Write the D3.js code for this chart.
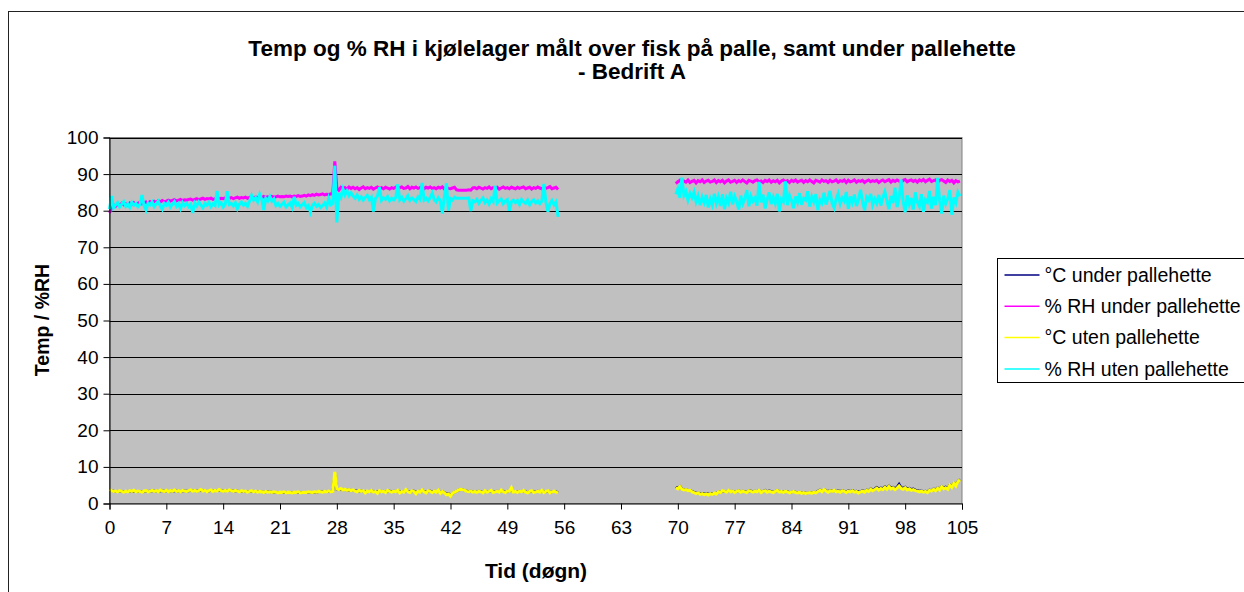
<!DOCTYPE html>
<html>
<head>
<meta charset="utf-8">
<script src="https://cdn.jsdelivr.net/npm/d3@7"></script>
<style>
  body { margin: 0; background: #fff; }
  svg { display: block; font-family: "Liberation Sans", Arial, sans-serif; }
</style>
</head>
<body>
<div id="chart"></div>
<script>
// tekst
const titleLines = ["Temp og % RH i kjølelager målt over fisk på palle, samt under pallehette", "- Bedrift A"];
const xTitle = "Tid (døgn)";
const yTitle = "Temp / %RH";
const xTicks = [0, 7, 14, 21, 28, 35, 42, 49, 56, 63, 70, 77, 84, 91, 98, 105];
const yTicks = [0, 10, 20, 30, 40, 50, 60, 70, 80, 90, 100];
const seriesNames = ["°C under pallehette", "% RH under pallehette", "°C uten pallehette", "% RH uten pallehette"];
const seriesColors = ["#000080", "#ff00ff", "#ffff00", "#00ffff"];
const seriesWidths = [2.5, 3, 3, 3];

// målinger, hver 6. time (0.25 døgn). periode A starter døgn 0, periode B døgn 69.75
const stepDays = 0.25;
const startA = 0;
const startB = 69.75;

const tempUnderA = [
  3.7, 3.5, 3.4, 3.3, 3.3, 3.4, 3.3, 3.2, 3.3, 3.3, 3.4, 3.3, 3.4, 3.3, 3.3, 3.3, 3.2, 3.3, 3.4, 3.3,
  3.4, 3.5, 3.4, 3.4, 3.3, 3.5, 3.4, 3.4, 3.5, 3.3, 3.4, 3.4, 3.5, 3.4, 3.4, 3.3, 3.5, 3.4, 3.4, 3.4,
  3.6, 3.5, 3.5, 3.4, 3.5, 3.6, 3.5, 3.5, 3.3, 3.4, 3.6, 3.4, 3.5, 3.5, 3.6, 3.5, 3.4, 3.5, 3.5, 3.6,
  3.5, 3.4, 3.5, 3.4, 3.3, 3.4, 3.3, 3.3, 3.2, 3.3, 3.4, 3.3, 3.3, 3.2, 3.3, 3.2, 3.1, 3.2, 3.2, 3.2,
  3.1, 3.1, 3.1, 3.0, 3.0, 3.0, 3.1, 3.0, 3.0, 3.0, 3.0, 3.0, 3.0, 3.1, 3.0, 3.0, 3.0, 3.0, 3.1, 3.1,
  3.1, 3.1, 3.1, 3.2, 3.2, 3.2, 3.2, 3.2, 3.3, 3.2, 3.3, 7.9, 3.9, 3.8, 3.9, 3.7, 3.8, 3.6, 3.7, 3.6,
  3.6, 3.5, 3.4, 3.5, 3.4, 3.4, 3.2, 3.3, 3.3, 3.5, 3.3, 3.3, 3.1, 3.4, 3.3, 3.4, 3.2, 3.5, 3.4, 3.3,
  3.4, 3.3, 3.5, 3.2, 3.3, 3.2, 3.6, 3.3, 3.2, 3.4, 3.4, 3.0, 3.4, 3.2, 3.6, 3.3, 3.1, 3.4, 3.4, 3.2,
  3.4, 3.2, 3.5, 3.0, 3.3, 3.0, 2.6, 2.7, 2.2, 2.8, 3.1, 3.4, 3.7, 3.9, 3.8, 3.6, 3.4, 3.3, 3.4, 3.2,
  3.3, 3.1, 3.4, 3.3, 3.0, 3.4, 3.2, 3.3, 3.5, 3.1, 3.3, 3.4, 3.2, 3.6, 3.3, 3.1, 3.4, 3.3, 4.0, 3.2,
  3.3, 3.1, 3.4, 3.3, 3.5, 3.2, 3.0, 3.3, 3.4, 3.1, 3.3, 3.4, 3.2, 3.5, 3.1, 3.3, 3.4, 3.0, 3.2, 3.3, 3.2, 3.0
];
const tempUnderB = [
  4.5, 4.2, 4.7, 4.0, 3.8, 3.8, 3.6, 3.6, 3.3, 3.1, 2.9, 2.9, 2.7, 2.8, 2.6, 2.7, 2.6, 2.7, 2.7, 2.8,
  2.8, 3.2, 3.1, 3.4, 3.3, 3.2, 3.5, 3.3, 3.4, 3.1, 3.3, 3.5, 3.2, 3.4, 3.3, 3.1, 3.5, 3.4, 3.2, 3.4,
  3.3, 3.6, 3.1, 3.3, 3.6, 3.2, 3.5, 3.3, 3.1, 3.3, 3.6, 3.2, 3.3, 3.1, 3.4, 3.3, 3.0, 3.1, 3.3, 3.1,
  3.0, 3.1, 2.9, 3.0, 2.8, 2.9, 3.0, 2.9, 3.1, 3.0, 3.4, 3.7, 3.3, 3.8, 3.5, 3.3, 3.6, 3.4, 3.6, 3.3,
  3.5, 3.3, 3.6, 3.4, 3.2, 3.5, 3.3, 3.6, 3.3, 3.4, 3.2, 3.3, 3.5, 3.3, 3.7, 3.5, 4.0, 3.7, 4.0, 4.4,
  4.0, 4.3, 4.1, 4.6, 4.2, 4.8, 4.3, 4.5, 4.1, 4.5, 5.3, 4.4, 4.2, 4.5, 4.0, 4.2, 3.9, 4.0, 3.7, 3.6,
  3.4, 3.5, 3.3, 3.4, 3.2, 3.7, 3.5, 4.0, 3.7, 4.3, 3.9, 4.7, 4.2, 4.5, 4.1, 5.1, 4.6, 5.6, 5.0, 6.1,
  6.6
];

const rhUnderA = [
  79.4, 80.6, 81.6, 81.2, 81.8, 81.4, 82.0, 81.6, 81.9, 81.5, 82.1, 81.7, 82.2, 81.8, 82.0, 82.3, 81.9, 82.2, 82.4, 82.0,
  82.5, 82.2, 82.6, 82.3, 82.7, 82.4, 82.8, 82.5, 82.6, 82.9, 82.6, 82.8, 83.0, 82.7, 82.9, 83.1, 82.8, 83.0, 82.9, 83.1,
  83.2, 82.9, 83.1, 83.3, 83.0, 83.2, 83.4, 83.1, 83.3, 83.2, 83.4, 83.1, 83.3, 83.5, 83.2, 83.4, 83.3, 83.5, 83.2, 83.4,
  83.6, 83.3, 83.5, 83.7, 83.4, 83.6, 83.5, 83.7, 83.4, 83.6, 83.8, 83.5, 83.7, 83.6, 83.8, 83.6, 83.9, 83.7, 83.8, 83.6,
  83.9, 83.7, 83.8, 84.0, 83.8, 83.9, 83.8, 84.0, 83.9, 84.0, 83.8, 84.0, 83.9, 84.1, 83.9, 84.0, 84.2, 84.0, 84.3, 84.1,
  84.4, 84.2, 84.5, 84.3, 84.4, 84.6, 84.3, 84.5, 84.4, 84.6, 84.5, 93.5, 86.2, 85.6, 86.4, 86.0, 86.3, 85.9, 86.5, 86.1,
  86.4, 86.0, 86.3, 85.8, 86.2, 86.5, 86.0, 86.3, 86.1, 86.4, 85.9, 86.2, 86.5, 86.1, 86.3, 86.0, 86.4, 86.2, 85.9, 86.3,
  86.1, 86.4, 86.0, 86.3, 86.5, 86.1, 86.2, 86.6, 86.0, 86.4, 86.2, 86.5, 86.1, 86.3, 86.6, 86.0, 86.4, 86.2, 86.5, 86.1,
  86.3, 86.0, 86.4, 86.2, 86.5, 85.9, 86.3, 86.1, 86.0, 86.2, 86.4, 85.7, 85.6, 85.6, 85.6, 85.6, 85.6, 85.7, 85.6, 86.2,
  86.3, 86.0, 86.4, 86.2, 85.9, 86.3, 86.1, 86.5, 86.0, 86.3, 86.2, 86.4, 85.9, 86.2, 86.5, 86.1, 86.3, 86.0, 86.4, 86.2,
  86.0, 86.4, 86.1, 86.3, 86.5, 86.0, 86.2, 86.4, 85.9, 86.3, 86.1, 86.5, 86.2, 86.0, 86.4, 86.1, 86.3, 86.6, 86.0, 86.2, 86.4, 85.8
];
const rhUnderB = [
  87.4, 87.9, 88.3, 87.6, 88.1, 87.8, 88.4, 87.7, 88.0, 88.3, 87.6, 88.2, 87.9, 88.4, 87.7, 88.1, 88.3, 87.8, 88.0, 88.4,
  87.7, 88.2, 87.9, 88.3, 87.6, 88.1, 88.4, 87.8, 88.0, 88.3, 87.7, 88.2, 87.9, 88.4, 88.0, 87.6, 88.3, 88.1, 87.8, 88.2,
  88.4, 87.9, 88.1, 87.7, 88.3, 88.0, 88.4, 87.8, 88.2, 87.9, 88.3, 87.6, 88.1, 88.4, 87.9, 88.2, 87.7, 88.3, 88.0, 88.4,
  87.8, 88.1, 88.3, 87.7, 88.2, 87.9, 88.4, 88.0, 87.6, 88.3, 88.1, 87.8, 88.4, 88.0, 88.2, 87.7, 88.3, 87.9, 88.1, 88.4,
  87.8, 88.2, 88.0, 88.4, 87.7, 88.3, 87.9, 88.1, 88.4, 87.8, 88.2, 88.0, 88.3, 87.7, 88.1, 88.4, 87.9, 88.2, 88.0, 88.3,
  87.7, 88.1, 88.4, 87.9, 88.2, 88.5, 87.8, 88.3, 88.0, 88.4, 88.1, 87.7, 88.3, 88.5, 87.9, 88.2, 88.4, 88.0, 88.3, 87.8,
  88.4, 88.1, 88.5, 87.9, 88.3, 88.6, 88.0, 88.2, 88.4, 87.8, 88.3, 88.5, 88.1, 87.7, 88.4, 88.0, 88.3, 87.6, 88.2, 87.9,
  88.1
];

const tempUtenA = [
  3.8, 3.5, 3.3, 3.4, 3.2, 3.5, 3.3, 3.1, 3.4, 3.2, 3.5, 3.3, 3.6, 3.2, 3.4, 3.3, 3.1, 3.4, 3.5, 3.2,
  3.4, 3.6, 3.3, 3.5, 3.2, 3.7, 3.4, 3.3, 3.6, 3.2, 3.5, 3.4, 3.7, 3.3, 3.5, 3.2, 3.6, 3.4, 3.3, 3.5,
  3.7, 3.4, 3.6, 3.3, 3.5, 3.8, 3.4, 3.6, 3.2, 3.5, 3.7, 3.3, 3.6, 3.4, 3.8, 3.5, 3.3, 3.6, 3.4, 3.7,
  3.5, 3.3, 3.6, 3.4, 3.2, 3.5, 3.3, 3.4, 3.1, 3.3, 3.5, 3.2, 3.4, 3.1, 3.3, 3.2, 3.0, 3.3, 3.1, 3.2,
  3.0, 3.2, 3.1, 2.9, 3.1, 3.0, 3.2, 2.9, 3.1, 3.0, 2.9, 3.1, 3.0, 3.2, 2.9, 3.0, 3.1, 3.0, 3.2, 3.1,
  3.0, 3.2, 3.1, 3.3, 3.2, 3.1, 3.3, 3.2, 3.4, 3.2, 3.3, 8.6, 4.0, 3.8, 4.1, 3.7, 3.9, 3.6, 3.8, 3.5,
  3.7, 3.4, 3.2, 3.6, 3.3, 3.5, 2.9, 3.4, 3.2, 3.6, 3.1, 3.3, 2.8, 3.5, 3.2, 3.4, 3.0, 3.6, 3.3, 3.1,
  3.4, 3.2, 3.6, 2.9, 3.3, 3.1, 3.8, 3.2, 3.0, 3.5, 3.3, 2.7, 3.4, 3.1, 3.7, 3.2, 2.9, 3.5, 3.3, 3.0,
  3.4, 3.1, 3.6, 2.8, 3.3, 2.9, 2.4, 2.6, 2.0, 2.8, 3.1, 3.4, 3.7, 3.9, 3.8, 3.6, 3.3, 3.2, 3.4, 3.1,
  3.3, 3.0, 3.4, 3.2, 2.9, 3.5, 3.1, 3.3, 3.6, 3.0, 3.2, 3.4, 3.1, 3.7, 3.2, 3.0, 3.4, 3.3, 4.3, 3.1,
  3.3, 3.0, 3.4, 3.2, 3.6, 3.1, 2.9, 3.3, 3.5, 3.0, 3.2, 3.4, 3.1, 3.6, 3.0, 3.3, 3.5, 2.9, 3.2, 3.4, 3.1, 2.9
];
const tempUtenB = [
  4.3, 4.0, 4.6, 3.9, 3.7, 3.8, 3.5, 3.6, 3.2, 3.0, 2.7, 2.9, 2.5, 2.7, 2.4, 2.6, 2.3, 2.7, 2.5, 2.8,
  2.6, 3.2, 3.0, 3.5, 3.3, 3.1, 3.6, 3.2, 3.4, 3.0, 3.3, 3.5, 3.1, 3.4, 3.2, 3.0, 3.5, 3.3, 3.1, 3.4,
  3.2, 3.6, 3.0, 3.3, 3.5, 3.1, 3.4, 3.2, 3.0, 3.3, 3.6, 3.1, 3.3, 3.0, 3.4, 3.2, 2.9, 3.1, 3.3, 3.0,
  2.9, 3.1, 2.8, 3.0, 2.7, 2.9, 3.0, 2.8, 3.1, 2.9, 3.3, 3.6, 3.2, 3.8, 3.4, 3.1, 3.5, 3.3, 3.6, 3.2,
  3.4, 3.1, 3.5, 3.3, 3.0, 3.4, 3.2, 3.5, 3.1, 3.3, 2.9, 3.2, 3.4, 3.1, 3.6, 3.3, 3.9, 3.5, 3.8, 4.2,
  3.7, 4.1, 3.8, 4.4, 3.9, 4.6, 4.0, 4.3, 3.8, 4.2, 4.8, 4.1, 3.9, 4.3, 3.7, 4.0, 3.6, 3.8, 3.5, 3.4,
  3.2, 3.4, 3.1, 3.3, 3.0, 3.6, 3.4, 3.9, 3.5, 4.2, 3.7, 4.6, 4.0, 4.3, 3.9, 5.0, 4.4, 5.5, 4.8, 6.0,
  6.5
];

const rhUtenA = [
  80.4, 84.0, 80.8, 81.6, 82.2, 81.0, 81.8, 82.5, 81.2, 81.9, 80.9, 82.3, 81.5, 82.0, 81.1, 81.7, 84.3, 81.4, 80.2, 82.1,
  81.6, 82.4, 81.1, 81.9, 82.6, 81.3, 80.4, 82.0, 81.5, 82.3, 81.0, 81.8, 82.5, 81.2, 81.9, 80.6, 82.2, 81.4, 82.0, 81.1,
  81.8, 79.4, 82.1, 81.3, 82.4, 81.6, 80.8, 82.0, 81.5, 82.3, 81.1, 81.9, 81.4, 85.4, 81.6, 82.2, 81.0, 81.8, 85.3, 81.7,
  82.0, 81.3, 82.2, 80.6, 81.8, 82.4, 81.5, 82.0, 81.2, 82.6, 84.2, 82.9, 83.6, 82.4, 84.5, 83.1, 80.2, 83.4, 82.7, 83.9,
  82.6, 83.2, 81.4, 82.0, 81.2, 81.8, 82.3, 81.0, 81.6, 82.1, 80.9, 83.8, 81.5, 82.0, 81.1, 81.7, 82.2, 80.8, 81.4, 79.6,
  81.5, 82.0, 81.2, 81.7, 80.9, 81.4, 82.1, 81.0, 83.4, 81.6, 82.0, 92.3, 76.8, 84.8, 83.6, 85.9, 84.3, 85.4, 84.1, 84.9,
  84.0, 83.4, 84.3, 83.1, 83.8, 82.9, 83.6, 84.2, 83.0, 83.7, 79.8, 83.3, 84.0, 86.4, 82.8, 83.5, 83.1, 83.9, 82.7, 83.4,
  82.9, 83.6, 87.2, 83.0, 83.7, 82.6, 83.3, 84.1, 82.8, 83.5, 83.0, 82.5, 83.8, 83.1, 87.6, 82.9, 83.4, 82.7, 83.6, 84.8,
  83.0, 82.4, 83.5, 82.8, 79.2, 84.1, 87.5, 80.0, 83.3, 82.9, 83.7, 83.4, 83.4, 83.4, 83.4, 83.4, 83.4, 83.5, 79.9, 82.7,
  82.4, 83.1, 82.0, 82.8, 83.5, 82.2, 82.9, 81.8, 83.3, 82.5, 86.8, 82.1, 82.7, 83.2, 81.9, 82.6, 83.0, 80.0, 82.4, 82.9,
  82.2, 82.8, 81.7, 83.1, 82.4, 82.0, 82.9, 81.6, 82.5, 83.0, 82.1, 82.7, 81.9, 82.6, 87.3, 82.3, 79.7, 82.0, 82.8, 81.6, 82.4, 78.3
];
const rhUtenB = [
  84.5, 86.0, 83.5, 89.0, 84.2, 85.3, 82.9, 84.8, 83.6, 85.1, 82.4, 84.0, 81.5, 83.7, 82.2, 84.3, 80.9, 83.2, 81.6, 84.6,
  82.0, 83.8, 81.3, 84.5, 80.4, 83.4, 82.1, 85.2, 81.7, 83.9, 82.5, 80.3, 84.1, 81.9, 83.3, 85.6, 81.2, 84.0, 82.6, 83.5,
  81.4, 87.9, 82.3, 84.4, 80.6, 83.1, 85.0, 81.8, 83.7, 82.0, 84.6, 79.8, 83.2, 82.5, 88.0, 81.5, 84.2, 82.8, 80.7, 83.9,
  82.3, 84.8, 81.6, 83.4, 82.9, 85.3, 81.1, 83.8, 82.4, 84.5, 80.2, 83.0, 82.1, 84.9, 81.7, 83.6, 85.4, 82.0, 80.8, 83.3,
  84.7, 81.9, 83.5, 82.6, 85.1, 80.5, 83.9, 82.2, 84.4, 81.3, 83.0, 85.7, 82.5, 80.1, 83.7, 82.9, 84.6, 81.6, 83.2, 82.0,
  84.3, 81.4, 83.6, 85.2, 82.7, 80.4, 84.0, 82.1, 86.3, 81.0, 83.4, 88.5, 82.6, 79.6, 84.2, 81.8, 83.5, 80.3, 85.0, 82.4,
  81.2, 84.5, 79.7, 83.0, 82.3, 85.4, 80.6, 83.8, 81.5, 89.0, 82.8, 79.2, 84.1, 81.9, 83.3, 85.6, 78.9, 83.6, 82.2, 85.1,
  84.0
];

const seriesData = [
  [tempUnderA, tempUnderB],
  [rhUnderA, rhUnderB],
  [tempUtenA, tempUtenB],
  [rhUtenA, rhUtenB]
];

const width = 1244, height = 592;
const plot = { left: 109.5, right: 962, top: 137.5, bottom: 503.5 };

const svg = d3.select("#chart").append("svg")
  .attr("width", width)
  .attr("height", height);

svg.append("rect").attr("width", width).attr("height", height).attr("fill", "#fff");

// ytre ramme (fortsetter utenfor bildet)
svg.append("rect")
  .attr("x", 8.5).attr("y", 11.5)
  .attr("width", 1400).attr("height", 700)
  .attr("fill", "none").attr("stroke", "#222").attr("stroke-width", 1);

const x = d3.scaleLinear().domain([0, 105]).range([plot.left, plot.right]);
const y = d3.scaleLinear().domain([0, 100]).range([plot.bottom, plot.top]);

svg.append("rect")
  .attr("x", plot.left).attr("y", plot.top)
  .attr("width", plot.right - plot.left).attr("height", plot.bottom - plot.top)
  .attr("fill", "#c0c0c0").attr("stroke", "#808080");

// rutenett
svg.append("g")
  .selectAll("line")
  .data(yTicks.filter(d => d > 0))
  .join("line")
  .attr("x1", plot.left).attr("x2", plot.right)
  .attr("y1", d => Math.round(y(d)) + 0.5).attr("y2", d => Math.round(y(d)) + 0.5)
  .attr("stroke", "#000");

// serier
const line = start => d3.line()
  .x((v, i) => x(start + i * stepDays))
  .y(v => y(v));

const lines = svg.append("g").attr("fill", "none").attr("stroke-linejoin", "miter");
seriesData.forEach((segs, k) => {
  [startA, startB].forEach((start, s) => {
    lines.append("path")
      .attr("d", line(start)(segs[s]))
      .attr("stroke", seriesColors[k])
      .attr("stroke-width", seriesWidths[k]);
  });
});

// akser
const yAxis = d3.axisLeft(y).tickValues(yTicks).tickSize(6).tickPadding(5);
const gy = svg.append("g").attr("transform", `translate(${plot.left},0)`).call(yAxis);
gy.select(".domain").attr("stroke", "#000");
gy.selectAll(".tick line").attr("stroke", "#000");
gy.selectAll("text").attr("font-size", 19).attr("fill", "#000").attr("font-family", null);

const xAxis = d3.axisBottom(x).tickValues(xTicks).tickSize(6).tickPadding(11);
const gx = svg.append("g").attr("transform", `translate(0,${plot.bottom})`).call(xAxis);
gx.select(".domain").attr("stroke", "#000");
gx.selectAll(".tick line").attr("stroke", "#000");
gx.selectAll("text").attr("font-size", 19).attr("fill", "#000").attr("font-family", null);

// titler
svg.append("g")
  .selectAll("text")
  .data(titleLines)
  .join("text")
  .attr("x", 632).attr("y", (d, i) => 56 + i * 23)
  .attr("text-anchor", "middle")
  .attr("font-weight", "bold").attr("font-size", 22.5)
  .text(d => d);

svg.append("text")
  .attr("x", 536).attr("y", 578)
  .attr("text-anchor", "middle")
  .attr("font-weight", "bold").attr("font-size", 21)
  .text(xTitle);

svg.append("text")
  .attr("transform", "translate(49,320) rotate(-90)")
  .attr("text-anchor", "middle")
  .attr("font-weight", "bold").attr("font-size", 19.5)
  .text(yTitle);

// tegnforklaring
const legend = svg.append("g").attr("transform", "translate(997.5,258.5)");
legend.append("rect")
  .attr("width", 400).attr("height", 124)
  .attr("fill", "#fff").attr("stroke", "#000");
const item = legend.selectAll("g.item")
  .data(seriesNames)
  .join("g")
  .attr("class", "item")
  .attr("transform", (d, i) => `translate(0,${16.5 + i * 31.3})`);
item.append("line")
  .attr("x1", 7).attr("x2", 42)
  .attr("stroke", (d, i) => seriesColors[i]).attr("stroke-width", 1.5);
item.append("text")
  .attr("x", 47).attr("dy", "0.35em")
  .attr("font-size", 19.5)
  .text(d => d);
</script>
</body>
</html>
